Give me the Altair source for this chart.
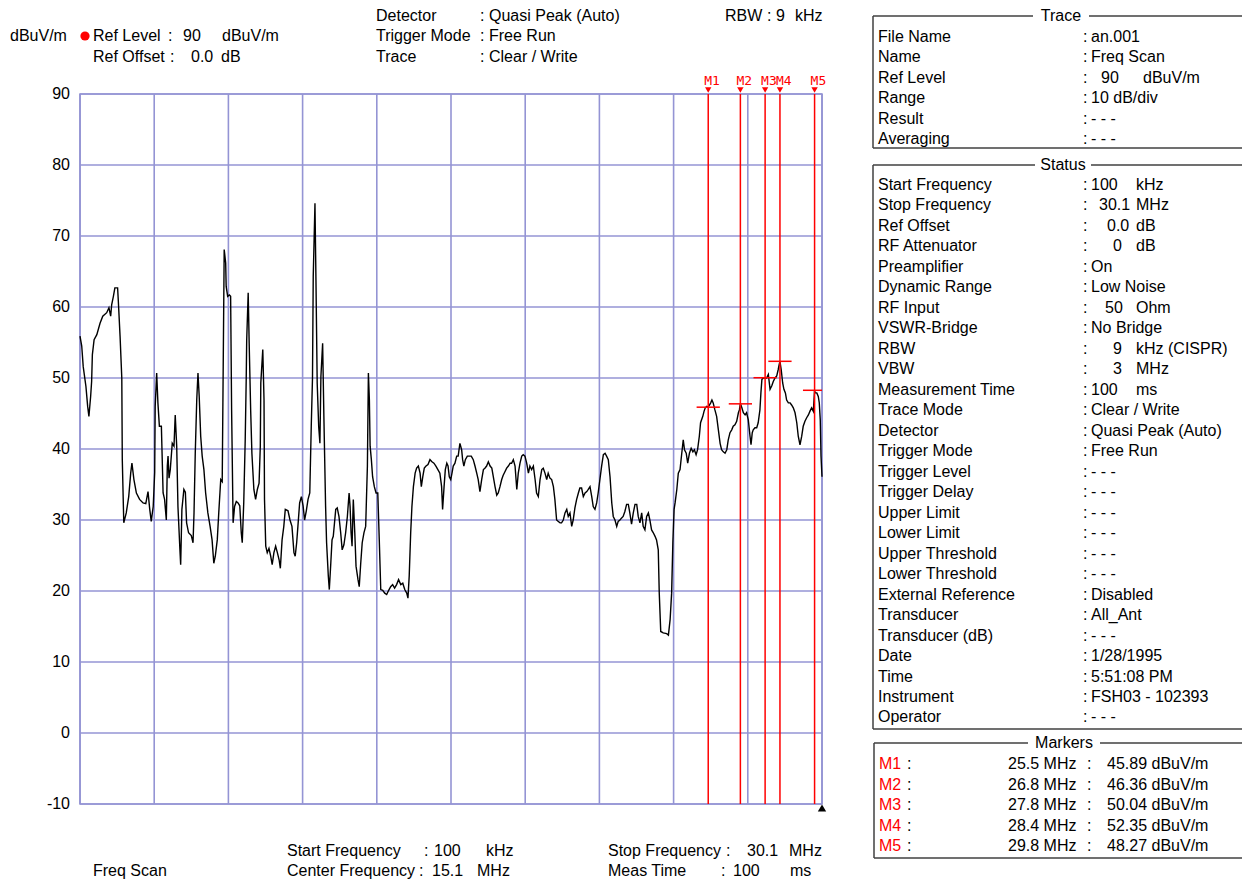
import altair as alt
import pandas as pd

FONT = "Liberation Sans"
GRID = "#9494d4"
RED = "#ff0000"

# ---------------- data ----------------
start_mhz, stop_mhz = 0.1, 30.1
y_ticks = [-10, 0, 10, 20, 30, 40, 50, 60, 70, 80, 90]
x_div = [0.1, 3.1, 6.1, 9.1, 12.1, 15.1, 18.1, 21.1, 24.1, 27.1, 30.1]

trace_freq = [
    0.10, 0.17, 0.23, 0.34, 0.41, 0.46, 0.53, 0.57, 0.60, 0.67,
    0.78, 0.91, 1.02, 1.18, 1.27, 1.34, 1.38, 1.45, 1.51, 1.62,
    1.65, 1.72, 1.79, 1.81, 1.87, 1.97, 2.07, 2.15, 2.20, 2.28,
    2.38, 2.51, 2.65, 2.76, 2.85, 2.92, 2.98, 3.06, 3.12, 3.14,
    3.20, 3.25, 3.31, 3.39, 3.46, 3.52, 3.59, 3.63, 3.66, 3.70,
    3.75, 3.83, 3.90, 3.95, 4.01, 4.06, 4.14, 4.17, 4.22, 4.30,
    4.36, 4.41, 4.49, 4.60, 4.67, 4.71, 4.76, 4.82, 4.87, 4.92,
    4.98, 5.04, 5.11, 5.18, 5.27, 5.36, 5.44, 5.51, 5.57, 5.65,
    5.71, 5.79, 5.85, 5.89, 5.93, 5.99, 6.01, 6.07, 6.14, 6.19,
    6.23, 6.29, 6.35, 6.42, 6.49, 6.56, 6.62, 6.66, 6.72, 6.78,
    6.82, 6.84, 6.90, 6.94, 7.00, 7.05, 7.13, 7.20, 7.27, 7.34,
    7.39, 7.41, 7.49, 7.54, 7.56, 7.61, 7.67, 7.74, 7.81, 7.87,
    7.94, 8.01, 8.08, 8.15, 8.20, 8.27, 8.34, 8.40, 8.51, 8.59,
    8.67, 8.75, 8.80, 8.86, 8.91, 8.98, 9.05, 9.12, 9.18, 9.25,
    9.32, 9.39, 9.45, 9.50, 9.53, 9.60, 9.64, 9.69, 9.75, 9.80,
    9.84, 9.91, 9.96, 10.03, 10.07, 10.14, 10.18, 10.24, 10.29, 10.34,
    10.44, 10.50, 10.57, 10.64, 10.70, 10.77, 10.84, 10.91, 10.98, 11.02,
    11.06, 11.10, 11.15, 11.21, 11.26, 11.34, 11.39, 11.45, 11.51, 11.58,
    11.65, 11.72, 11.76, 11.80, 11.83, 11.88, 11.93, 12.00, 12.07, 12.14,
    12.20, 12.26, 12.34, 12.42, 12.50, 12.58, 12.66, 12.74, 12.82, 12.90,
    12.98, 13.07, 13.15, 13.23, 13.31, 13.36, 13.41, 13.47, 13.52, 13.58,
    13.65, 13.71, 13.78, 13.85, 13.90, 13.96, 14.02, 14.09, 14.17, 14.25,
    14.33, 14.41, 14.49, 14.57, 14.65, 14.72, 14.76, 14.82, 14.87, 14.93,
    14.98, 15.03, 15.09, 15.14, 15.19, 15.26, 15.33, 15.39, 15.46, 15.53,
    15.57, 15.62, 15.68, 15.76, 15.84, 15.92, 16.00, 16.07, 16.14, 16.20,
    16.27, 16.34, 16.41, 16.47, 16.54, 16.61, 16.68, 16.75, 16.81, 16.88,
    16.95, 17.01, 17.08, 17.15, 17.21, 17.28, 17.35, 17.42, 17.49, 17.55,
    17.62, 17.69, 17.76, 17.82, 17.89, 17.96, 18.02, 18.09, 18.16, 18.23,
    18.29, 18.36, 18.43, 18.50, 18.56, 18.63, 18.70, 18.77, 18.83, 18.90,
    18.97, 19.03, 19.10, 19.17, 19.24, 19.30, 19.37, 19.44, 19.51, 19.57,
    19.64, 19.71, 19.78, 19.84, 19.91, 19.98, 20.04, 20.11, 20.18, 20.25,
    20.31, 20.38, 20.45, 20.52, 20.59, 20.65, 20.72, 20.79, 20.85, 20.92,
    20.99, 21.05, 21.12, 21.19, 21.26, 21.33, 21.39, 21.46, 21.53, 21.60,
    21.66, 21.73, 21.80, 21.86, 21.93, 22.00, 22.06, 22.13, 22.20, 22.27,
    22.33, 22.40, 22.47, 22.54, 22.61, 22.67, 22.74, 22.81, 22.87, 22.94,
    23.01, 23.08, 23.14, 23.21, 23.28, 23.35, 23.41, 23.48, 23.52, 23.58,
    23.68, 23.82, 23.89, 23.96, 24.02, 24.07, 24.12, 24.16, 24.23, 24.29,
    24.36, 24.43, 24.49, 24.54, 24.61, 24.67, 24.74, 24.81, 24.88, 24.94,
    25.01, 25.07, 25.14, 25.19, 25.28, 25.33, 25.38, 25.44, 25.50, 25.60,
    25.65, 25.70, 25.77, 25.84, 25.91, 25.98, 26.04, 26.11, 26.18, 26.25,
    26.31, 26.38, 26.45, 26.51, 26.58, 26.65, 26.72, 26.76, 26.80, 26.86,
    26.92, 26.99, 27.05, 27.12, 27.19, 27.23, 27.28, 27.32, 27.39, 27.46,
    27.52, 27.59, 27.63, 27.67, 27.73, 27.80, 27.86, 27.93, 28.00, 28.07,
    28.13, 28.20, 28.27, 28.33, 28.37, 28.40, 28.45, 28.51, 28.56, 28.62,
    28.67, 28.74, 28.81, 28.87, 28.94, 29.01, 29.08, 29.14, 29.21, 29.28,
    29.34, 29.41, 29.48, 29.55, 29.61, 29.68, 29.75, 29.80, 29.82, 29.89,
    29.95, 29.99, 30.03, 30.06, 30.10,
]
trace_level = [
    55.9, 54.5, 51.6, 48.8, 46.0, 44.6, 47.4, 49.5, 53.3, 55.4,
    56.1, 57.7, 58.7, 59.2, 59.9, 58.7, 60.3, 61.5, 62.7, 62.7,
    60.8, 55.9, 50.0, 38.5, 29.6, 31.0, 33.3, 36.6, 38.0, 35.7,
    33.8, 32.9, 32.4, 32.3, 34.0, 31.5, 29.8, 31.9, 36.7, 46.0,
    50.7, 46.5, 43.2, 43.2, 33.8, 32.9, 30.0, 37.6, 39.0, 35.9,
    37.1, 40.8, 40.4, 44.8, 40.4, 31.9, 25.8, 23.7, 31.5, 34.3,
    33.9, 29.6, 28.2, 27.8, 26.8, 31.0, 39.4, 46.9, 50.7, 47.4,
    41.8, 39.0, 37.1, 33.8, 31.0, 29.1, 27.2, 23.9, 24.9, 27.2,
    31.0, 35.7, 35.4, 51.6, 68.1, 66.2, 62.9, 61.5, 61.7, 61.5,
    45.5, 29.6, 31.9, 32.6, 32.4, 32.0, 28.2, 26.8, 32.4, 41.3,
    49.8, 55.4, 62.0, 54.9, 45.5, 39.4, 34.3, 32.9, 34.3, 35.2,
    40.4, 49.3, 54.0, 46.9, 32.9, 26.3, 25.4, 26.0, 24.9, 23.7,
    25.4, 26.3, 25.4, 24.4, 23.2, 27.2, 29.1, 31.5, 31.3, 30.0,
    29.1, 25.4, 24.9, 26.8, 29.1, 32.4, 33.3, 32.0, 30.0, 31.3,
    32.9, 33.8, 43.2, 50.0, 64.3, 74.6, 63.8, 49.3, 43.2, 40.8,
    50.2, 54.9, 44.6, 31.9, 26.8, 22.1, 20.2, 23.9, 27.2, 27.7,
    31.5, 31.7, 30.5, 28.2, 25.8, 26.5, 28.2, 30.5, 33.8, 31.9,
    28.2, 26.3, 32.9, 28.2, 23.5, 21.6, 20.6, 23.9, 26.8, 28.2,
    29.1, 37.6, 50.7, 46.9, 40.4, 38.5, 36.1, 34.7, 33.8, 33.8,
    27.2, 20.2, 20.1, 19.7, 19.5, 20.1, 20.6, 20.9, 20.4, 20.9,
    21.6, 20.9, 21.1, 20.2, 19.7, 19.0, 22.1, 28.2, 31.9, 34.7,
    36.6, 37.3, 37.6, 36.6, 34.7, 36.1, 37.3, 37.6, 37.8, 38.5,
    38.2, 38.0, 37.6, 37.1, 36.6, 34.7, 31.5, 34.7, 37.1, 38.0,
    37.6, 36.1, 35.7, 36.6, 37.6, 38.0, 39.0, 39.0, 40.8, 39.9,
    38.5, 37.6, 38.5, 39.0, 39.0, 39.0, 38.5, 37.6, 36.6, 35.7,
    34.0, 35.7, 37.1, 37.3, 37.6, 38.2, 37.6, 37.3, 36.1, 34.7,
    33.5, 33.8, 34.7, 35.7, 36.3, 36.8, 37.3, 37.6, 38.0, 38.0,
    38.5, 37.6, 34.3, 36.6, 38.0, 39.0, 39.2, 39.0, 38.0, 36.6,
    37.6, 37.1, 37.6, 35.7, 33.8, 33.3, 35.7, 37.1, 37.3, 36.6,
    35.7, 36.6, 35.9, 35.7, 34.7, 32.9, 30.0, 29.8, 29.6, 29.6,
    30.0, 31.0, 31.5, 30.5, 31.0, 29.1, 30.0, 31.7, 32.9, 33.8,
    34.5, 34.5, 33.3, 33.8, 34.0, 34.3, 34.7, 33.3, 31.9, 31.5,
    32.4, 33.8, 35.7, 37.6, 39.2, 39.4, 39.0, 38.5, 36.1, 32.4,
    30.5, 30.0, 29.1, 29.8, 30.0, 30.3, 30.5, 31.2, 32.2, 32.2,
    31.0, 29.4, 31.0, 32.2, 32.2, 30.5, 29.6, 31.0, 29.1, 28.6,
    30.5, 31.0, 30.0, 28.6, 28.2, 27.7, 27.2, 25.8, 19.7, 14.3,
    14.1, 14.0, 13.8, 16.0, 19.7, 26.8, 31.5, 32.4, 34.3, 36.6,
    37.1, 39.4, 41.3, 39.9, 39.4, 38.0, 39.4, 40.1, 39.6, 39.9,
    39.2, 39.9, 41.8, 43.7, 44.6, 45.3, 45.8, 46.0, 45.9, 46.5,
    46.9, 46.5, 45.5, 44.6, 42.7, 40.8, 39.9, 39.6, 39.4, 39.9,
    41.3, 42.3, 42.7, 43.2, 43.4, 43.9, 45.1, 45.5, 46.4, 45.8,
    45.1, 44.8, 45.1, 44.1, 41.8, 40.6, 42.3, 42.7, 43.0, 43.0,
    43.7, 45.5, 47.9, 49.8, 50.0, 50.0, 50.0, 50.5, 48.4, 48.9,
    49.5, 50.0, 50.3, 51.2, 51.9, 52.35, 51.2, 49.3, 48.4, 47.9,
    46.9, 46.5, 46.5, 46.2, 45.8, 45.1, 43.7, 41.8, 40.6, 41.8,
    43.2, 43.9, 44.4, 44.8, 45.3, 45.8, 45.3, 48.3, 47.9, 47.9,
    47.4, 46.5, 44.1, 39.0, 36.1,
]

marker_names = ["M1", "M2", "M3", "M4", "M5"]
marker_freq = [25.5, 26.8, 27.8, 28.4, 29.8]
marker_level = [45.89, 46.36, 50.04, 52.35, 48.27]

trace_info_labels = ["File Name", "Name", "Ref Level", "Range", "Result", "Averaging"]
trace_info_values = ["an.001", "Freq Scan", "", "10 dB/div", "- - -", "- - -"]

status_labels = ["Start Frequency", "Stop Frequency", "Ref Offset", "RF Attenuator",
                 "Preamplifier", "Dynamic Range", "RF Input", "VSWR-Bridge", "RBW", "VBW",
                 "Measurement Time", "Trace Mode", "Detector", "Trigger Mode", "Trigger Level",
                 "Trigger Delay", "Upper Limit", "Lower Limit", "Upper Threshold",
                 "Lower Threshold", "External Reference", "Transducer", "Transducer (dB)",
                 "Date", "Time", "Instrument", "Operator"]
status_values = ["100", "30.1", "0.0", "0", "On", "Low Noise", "50", "No Bridge", "9", "3",
                 "100", "Clear / Write", "Quasi Peak (Auto)", "Free Run", "- - -", "- - -",
                 "- - -", "- - -", "- - -", "- - -", "Disabled", "All_Ant", "- - -",
                 "1/28/1995", "5:51:08 PM", "FSH03 - 102393", "- - -"]
status_units = ["kHz", "MHz", "dB", "dB", "", "", "Ohm", "", "kHz (CISPR)", "MHz",
                "ms", "", "", "", "", "", "", "", "", "", "", "", "", "", "", "", ""]

# ---------------- layout ----------------
PX0, PY0 = 80, 94          # plot origin on the page
W, H = 742, 710
FS = 16

texts = []


def add(t, x, y, c="black", s=FS):
    texts.append({"t": t, "x": x - PX0, "y": y - PY0, "c": c, "s": s})


# header
add("dBuV/m", 10, 36)
add("Ref Level", 93, 36); add(":", 168, 36); add("90", 183, 36); add("dBuV/m", 222, 36)
add("Ref Offset", 93, 57); add(":", 170, 57); add("0.0", 191, 57); add("dB", 221, 57)
add("Detector", 376, 16); add(":", 480, 16); add("Quasi Peak (Auto)", 489, 16)
add("Trigger Mode", 376, 36); add(":", 480, 36); add("Free Run", 489, 36)
add("Trace", 376, 57); add(":", 480, 57); add("Clear / Write", 489, 57)
add("RBW", 725, 16); add(":", 767, 16); add("9", 776, 16); add("kHz", 795, 16)

# footer
add("Freq Scan", 93, 871)
add("Start Frequency", 287, 851); add(":", 424, 851); add("100", 434, 851); add("kHz", 486, 851)
add("Center Frequency", 287, 871); add(":", 419, 871); add("15.1", 432, 871); add("MHz", 477, 871)
add("Stop Frequency", 608, 851); add(":", 726, 851); add("30.1", 747, 851); add("MHz", 789, 851)
add("Meas Time", 608, 871); add(":", 721, 871); add("100", 733, 871); add("ms", 790, 871)

# right panel: trace section
LBL_X, COLON_X, VAL_X = 878, 1083, 1091
for i, (lab, val) in enumerate(zip(trace_info_labels, trace_info_values)):
    y = 36.5 + i * 20.5
    add(lab, LBL_X, y)
    add(":", COLON_X, y)
    if val:
        add(val, VAL_X, y)
add("90", 1101, 36.5 + 2 * 20.5)
add("dBuV/m", 1143, 36.5 + 2 * 20.5)

# right panel: status section
num_x = {"100": 1091, "30.1": 1099, "0.0": 1107, "0": 1113, "50": 1105, "9": 1113, "3": 1113}
for i, (lab, val, unit) in enumerate(zip(status_labels, status_values, status_units)):
    y = 185 + i * 20.48
    add(lab, LBL_X, y)
    add(":", COLON_X, y)
    add(val, num_x.get(val, VAL_X) if unit else VAL_X, y)
    if unit:
        add(unit, 1136, y)

# right panel: markers section
for i, (nm, f, lv) in enumerate(zip(marker_names, marker_freq, marker_level)):
    y = 764 + i * 20.5
    add(nm, 879, y, RED)
    add(":", 907, y)
    add(f"{f:.1f} MHz", 1008, y)
    add(":", 1087, y)
    add(f"{lv:.2f} dBuV/m", 1107, y)

titles = [{"t": t, "x": x - PX0, "y": y - PY0} for t, x, y in
          [("Trace", 1061, 16), ("Status", 1063, 165), ("Markers", 1064, 743)]]

segs = [(873, 16, 1033, 16), (1089, 16, 1250, 16), (873, 16, 873, 148), (873, 148, 1250, 148),
        (873, 165, 1035, 165), (1091, 165, 1250, 165), (873, 165, 873, 729), (873, 729, 1250, 729),
        (874, 743, 1028, 743), (1100, 743, 1250, 743), (874, 743, 874, 858), (874, 858, 1250, 858)]
seg_df = pd.DataFrame([{"x": a - PX0, "y": b - PY0, "x2": c - PX0, "y2": d - PY0} for a, b, c, d in segs])

# ---------------- chart ----------------
xs = alt.Scale(domain=[start_mhz, stop_mhz], nice=False, zero=False)
ys = alt.Scale(domain=[-10, 90], nice=False, zero=False)

trace_df = pd.DataFrame({"freq": trace_freq, "level": trace_level})
mk_df = pd.DataFrame({"name": marker_names, "freq": marker_freq, "level": marker_level})
ytick_df = pd.DataFrame({"v": y_ticks, "lab": [str(v) for v in y_ticks]})
xdiv_df = pd.DataFrame({"v": x_div})

hgrid = alt.Chart(ytick_df).mark_rule(color=GRID, strokeWidth=1.6).encode(
    y=alt.Y("v:Q", scale=ys, axis=None))
vgrid = alt.Chart(xdiv_df).mark_rule(color=GRID, strokeWidth=1.6).encode(
    x=alt.X("v:Q", scale=xs, axis=None))
ylabels = alt.Chart(ytick_df).mark_text(
    align="right", baseline="middle", dx=-10, font=FONT, fontSize=FS, color="black"
).encode(y=alt.Y("v:Q", scale=ys, axis=None), x=alt.value(0), text="lab:N")

trace = alt.Chart(trace_df).mark_line(color="black", strokeWidth=1.4).encode(
    x=alt.X("freq:Q", scale=xs, axis=None),
    y=alt.Y("level:Q", scale=ys, axis=None),
)

mrules = alt.Chart(mk_df).mark_rule(color=RED, strokeWidth=1.5).encode(
    x=alt.X("freq:Q", scale=xs, axis=None))

mticks = alt.Chart(mk_df).transform_calculate(
    f1="datum.freq - 0.47", f2="min(datum.freq + 0.47, 30.1)"
).mark_rule(color=RED, strokeWidth=1.5).encode(
    x=alt.X("f1:Q", scale=xs, axis=None), x2="f2:Q",
    y=alt.Y("level:Q", scale=ys, axis=None))

mlabels = alt.Chart(mk_df).mark_text(
    align="left", baseline="middle", dx=-4, font="DejaVu Sans Mono", fontSize=13, color=RED
).encode(x=alt.X("freq:Q", scale=xs, axis=None), y=alt.value(-13), text="name:N")

mtri = alt.Chart(mk_df).mark_point(shape="triangle-down", filled=True, color=RED, size=40, opacity=1).encode(
    x=alt.X("freq:Q", scale=xs, axis=None), y=alt.value(-4))

end_tri = alt.Chart(pd.DataFrame({"f": [stop_mhz]})).mark_point(
    shape="triangle-up", filled=True, color="black", size=70, opacity=1
).encode(x=alt.X("f:Q", scale=xs, axis=None), y=alt.value(H + 4))

boxes = alt.Chart(seg_df).mark_rule(color="#404040", strokeWidth=1.5).encode(
    x=alt.X("x:Q", scale=None, axis=None), x2="x2:Q",
    y=alt.Y("y:Q", scale=None, axis=None), y2="y2:Q")

txt = alt.Chart(pd.DataFrame(texts)).mark_text(align="left", baseline="middle", font=FONT).encode(
    x=alt.X("x:Q", scale=None, axis=None),
    y=alt.Y("y:Q", scale=None, axis=None),
    text="t:N",
    color=alt.Color("c:N", scale=None, legend=None),
    size=alt.Size("s:Q", scale=None, legend=None),
)

ttl = alt.Chart(pd.DataFrame(titles)).mark_text(
    align="center", baseline="middle", font=FONT, fontSize=FS, color="black"
).encode(x=alt.X("x:Q", scale=None, axis=None), y=alt.Y("y:Q", scale=None, axis=None), text="t:N")

dot = alt.Chart(pd.DataFrame({"a": [0]})).mark_point(
    filled=True, color=RED, size=85, opacity=1, shape="circle"
).encode(x=alt.value(85 - PX0), y=alt.value(36 - PY0))

chart = alt.layer(
    hgrid, vgrid, ylabels, trace, mrules, mticks, mlabels, mtri, end_tri, boxes, txt, ttl, dot
).properties(
    width=W, height=H,
    padding={"left": 72, "top": 86, "right": 420, "bottom": 80},
    autosize=alt.AutoSizeParams(type="none"),
    background="white",
).configure_view(
    stroke=GRID, strokeWidth=1.6
)

chart.save("out.html", embed_options={"renderer": "svg", "actions": False})
